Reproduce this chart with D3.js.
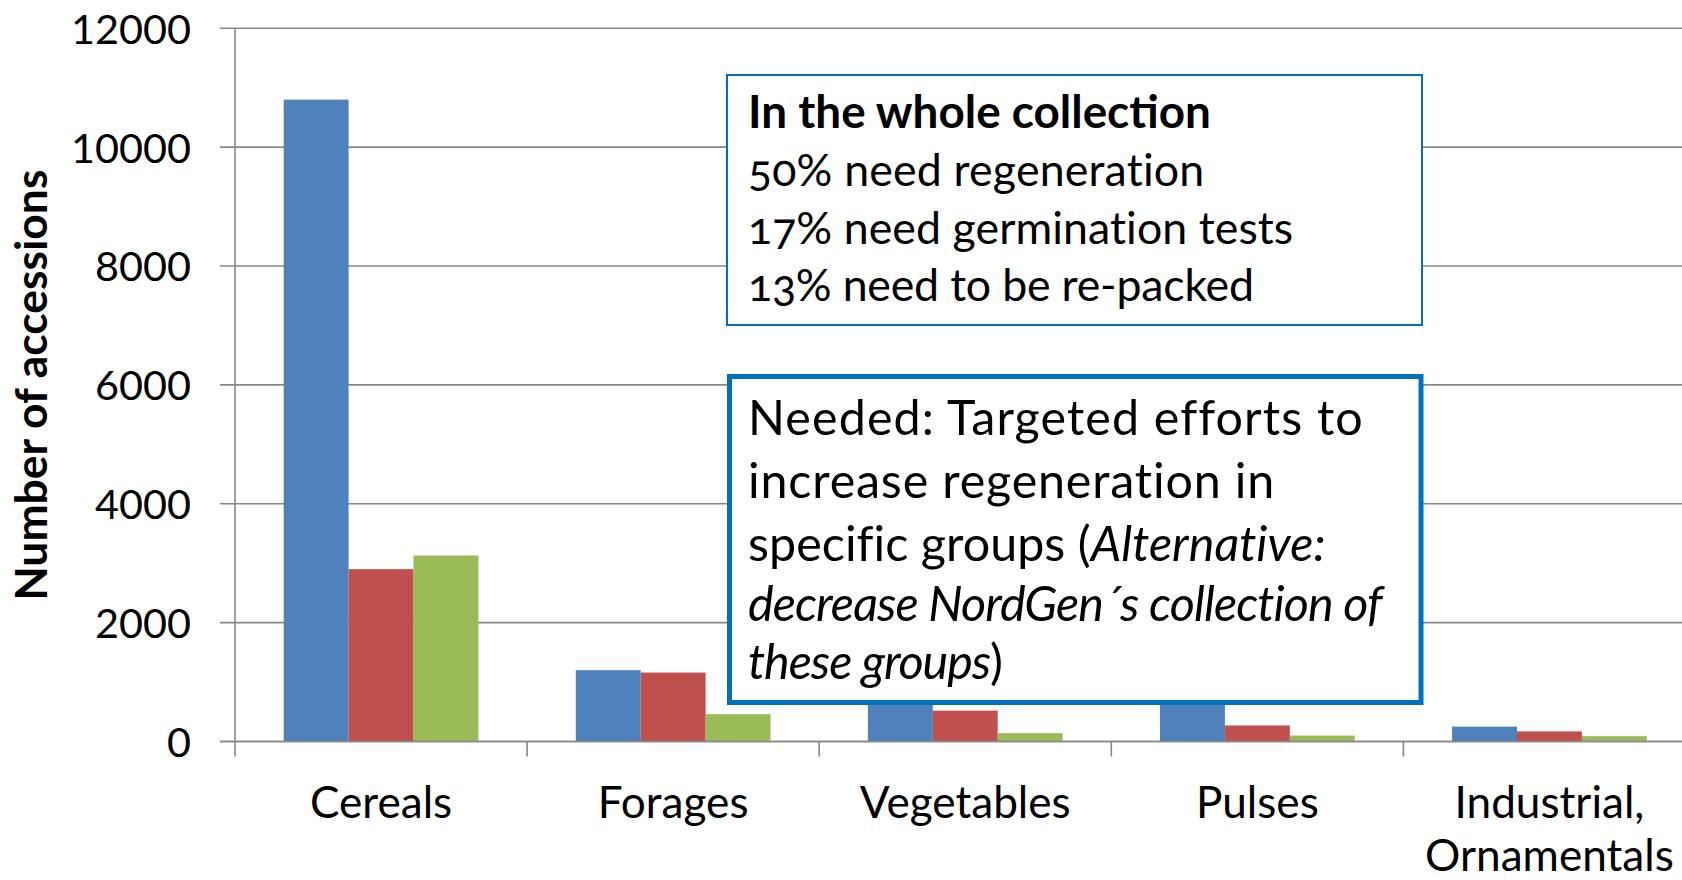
<!DOCTYPE html>
<html>
<head>
<meta charset="utf-8">
<script src="https://cdn.jsdelivr.net/npm/d3@7/dist/d3.min.js"></script>
<style>
  html, body { margin: 0; padding: 0; background: #fff; }
  svg { display: block; font-family: Lato, "Open Sans", sans-serif; }
</style>
</head>
<body>
<svg id="chart" width="1682" height="880"></svg>
<script>
// ---------- data ----------
const categories = ["Cereals", "Forages", "Vegetables", "Pulses", "Industrial, Ornamentals"];
const seriesNames = ["Need regeneration", "Need germination tests", "Need re-packing"];
const regenerationValues = [10800, 1200, 1000, 800, 250];
const germinationValues  = [2900, 1160, 520, 270, 170];
const repackValues       = [3130, 460, 140, 100, 90];
const yTicks = [0, 2000, 4000, 6000, 8000, 10000, 12000];
const yTitle = "Number of accessions";
const box1Title = "In the whole collection";
const box1Lines = ["50% need regeneration", "17% need germination tests", "13% need to be re-packed"];
const seriesColors = ["#4F81BD", "#C0504D", "#9BBB59"];

const seriesValues = [regenerationValues, germinationValues, repackValues];

// ---------- layout ----------
const svg = d3.select("#chart");
const plotLeft = 235, plotTop = 28.3, plotBottom = 741.5, bandStep = 292.1;
const gridColor = "#878787";

const x0 = d3.scaleBand().domain(categories)
  .range([plotLeft, plotLeft + bandStep * categories.length]).paddingInner(0).paddingOuter(0);
const x1 = d3.scaleBand().domain(seriesNames)
  .range([0, x0.bandwidth()]).paddingInner(0).paddingOuter(0.75);
const y = d3.scaleLinear().domain([0, 12000]).range([plotBottom, plotTop]);

// helper: fit a group of text nodes to target widths with a common font size
function fitGroup(nodes, targets, base, spacing) {
  let ratios = [];
  nodes.forEach((n, i) => {
    n.style.fontSize = base + "px";
    const w = n.getComputedTextLength();
    ratios.push(targets[i] / w);
  });
  const r = d3.mean(ratios);
  nodes.forEach(n => n.style.fontSize = (base * r) + "px");
  if (spacing) {
    nodes.forEach((n, i) => {
      const w = n.getComputedTextLength();
      const chars = n.textContent.length;
      n.style.letterSpacing = ((targets[i] - w) / Math.max(1, chars - 1)) + "px";
    });
  }
  return base * r;
}

// ---------- gridlines & y axis ----------
const yAxis = d3.axisLeft(y).tickValues(yTicks).tickSize(0).tickFormat(d3.format("d"));
const gridG = svg.append("g");
gridG.selectAll("line.grid").data(yTicks).join("line")
  .attr("x1", plotLeft - 15).attr("x2", 1682)
  .attr("y1", d => y(d)).attr("y2", d => y(d))
  .attr("stroke", gridColor).attr("stroke-width", 1.6);

// vertical axis line
svg.append("line").attr("x1", plotLeft).attr("x2", plotLeft)
  .attr("y1", y(12000)).attr("y2", plotBottom + 15)
  .attr("stroke", gridColor).attr("stroke-width", 1.6);

// x tick marks at category boundaries
const boundaries = categories.map(c => x0(c)).slice(1);
svg.selectAll("line.xtick").data(boundaries).join("line")
  .attr("x1", d => d).attr("x2", d => d)
  .attr("y1", plotBottom).attr("y2", plotBottom + 15)
  .attr("stroke", gridColor).attr("stroke-width", 1.6);

// ---------- bars ----------
const barG = svg.append("g");
categories.forEach((cat, ci) => {
  seriesNames.forEach((s, si) => {
    const v = seriesValues[si][ci];
    barG.append("rect")
      .attr("x", x0(cat) + x1(s))
      .attr("width", x1.bandwidth())
      .attr("y", y(v))
      .attr("height", y(0) - y(v))
      .attr("fill", seriesColors[si]);
  });
});

// redraw baseline on top of bars
svg.append("line").attr("x1", plotLeft - 15).attr("x2", 1682)
  .attr("y1", y(0)).attr("y2", y(0))
  .attr("stroke", gridColor).attr("stroke-width", 1.6);

// ---------- y tick labels ----------
const yLabG = svg.append("g").call(yAxis).attr("transform", `translate(${191},0)`);
yLabG.select(".domain").remove();
yLabG.selectAll("text").attr("fill", "#000").attr("font-family", "Lato, sans-serif")
  .attr("x", 0).attr("dy", "0.36em").attr("text-anchor", "end");
const tickNodes = yLabG.selectAll("text").nodes();
fitGroup([tickNodes[tickNodes.length - 1]], [120], 40);
const tickSize = tickNodes[tickNodes.length - 1].style.fontSize;
tickNodes.forEach(n => n.style.fontSize = tickSize);

// ---------- category labels ----------
const catTargets = { "Cereals": [142], "Forages": [150], "Vegetables": [213], "Pulses": [119], "Industrial, Ornamentals": [195, 249] };
const catNodes = [], catWidths = [];
categories.forEach(cat => {
  const lines = cat.split(/(?<=,)\s+/);
  lines.forEach((ln, li) => {
    const t = svg.append("text")
      .attr("x", x0(cat) + x0.bandwidth() / 2)
      .attr("y", 818 + li * 53)
      .attr("text-anchor", "middle")
      .attr("fill", "#000")
      .text(ln);
    catNodes.push(t.node());
    catWidths.push(catTargets[cat][li]);
  });
});
fitGroup(catNodes, catWidths, 40);

// ---------- y title ----------
const yt = svg.append("text")
  .attr("transform", `translate(47,385) rotate(-90)`)
  .attr("text-anchor", "middle")
  .attr("font-weight", "bold")
  .attr("fill", "#000")
  .text(yTitle);
fitGroup([yt.node()], [431], 36);

// ---------- annotation box 1 ----------
svg.append("rect").attr("x", 727).attr("y", 75).attr("width", 695).attr("height", 250)
  .attr("fill", "#fff").attr("stroke", "#0070C0").attr("stroke-width", 2);
const b1t = svg.append("text").attr("x", 748).attr("y", 128).attr("font-weight", "bold")
  .attr("fill", "#000").text(box1Title);
fitGroup([b1t.node()], [463], 40);
const b1Nodes = box1Lines.map((ln, i) =>
  svg.append("text").attr("x", 748).attr("y", 186 + i * 57.5).attr("fill", "#000")
    .style("font-variant-numeric", "oldstyle-nums")
    .text(ln).node());
fitGroup(b1Nodes, [457, 546, 506], 40, true);

// ---------- annotation box 2 ----------
svg.append("rect").attr("x", 729.5).attr("y", 376.5).attr("width", 691.5).attr("height", 326)
  .attr("fill", "#fff").attr("stroke", "#0070C0").attr("stroke-width", 5);
const box2Lines = [
  [{ t: "Needed: Targeted efforts to", i: false }],
  [{ t: "increase regeneration in", i: false }],
  [{ t: "specific groups (", i: false }, { t: "Alternative:", i: true }],
  [{ t: "decrease NordGen\u00B4s collection of", i: true }],
  [{ t: "these groups", i: true }, { t: ")", i: false }]
];
const box2Base = [435, 498, 561, 621, 679];
const b2Nodes = box2Lines.map((parts, li) => {
  const t = svg.append("text").attr("x", 748).attr("y", box2Base[li]).attr("fill", "#000");
  parts.forEach(p => t.append("tspan").attr("font-style", p.i ? "italic" : "normal").text(p.t));
  return t.node();
});
fitGroup(b2Nodes, [613, 527, 576, 634, 255], 44, true);
</script>
</body>
</html>
